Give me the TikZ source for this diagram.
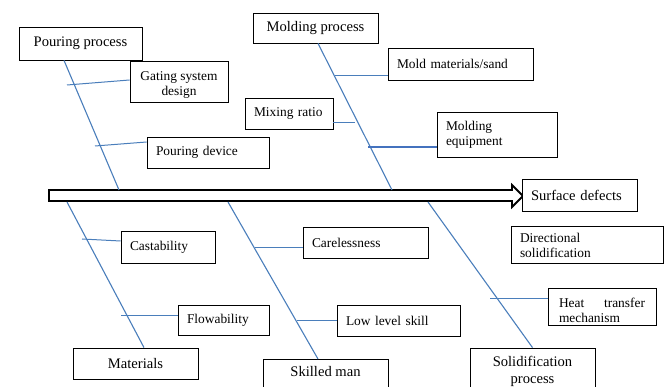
\documentclass[tikz,border=0pt]{standalone}
\usepackage{fontspec}
\setmainfont{Liberation Serif}
\definecolor{bonecol}{RGB}{74,126,187}
\definecolor{thickcol}{RGB}{68,114,190}
\begin{document}
\begin{tikzpicture}[x=1pt,y=-1pt,
  box/.style={draw=black, line width=0.8pt, fill=white, inner xsep=9pt, inner ysep=2pt,
    font=\fontsize{13.4}{15}\selectfont},
  boxl/.style={box, align=left},
  boxc/.style={box, align=center},
  bigtext/.style={font=\fontsize{14.6}{17}\selectfont},
  bone/.style={draw=bonecol, line width=1.1pt},
  twig/.style={draw=bonecol, line width=1pt},
  spine/.style={draw=black, line width=1.8pt, fill=white, line join=miter}
]
\useasboundingbox (0,0) rectangle (670,387);
\clip (0,0) rectangle (670,387);

% spine arrow
\draw[spine] (49,190) -- (512,190) -- (512,185) -- (523,196) -- (512,207) -- (512,201) -- (49,201) -- cycle;
\coordinate (s1) at (119,190);
\coordinate (s2) at (392,190);
\coordinate (s3) at (67,202);
\coordinate (s4) at (228,202);
\coordinate (s5) at (428,202);

% boxes
\node[boxc, bigtext, minimum width=123pt, minimum height=33pt] (pp) at (80.5,43.5) {Pouring process};
\node[boxc, minimum width=98pt, minimum height=41pt] (gsd) at (179,81.5) {\rule{0pt}{15.5pt}Gating system\\design};
\node[boxl, text width=104pt, minimum height=31pt] (pd) at (208,152.5) {Pouring device};
\node[boxl, text width=70pt, minimum height=31pt] (mr) at (289,113.5) {Mixing ratio};
\node[boxc, bigtext, minimum width=125pt, minimum height=30pt] (mp) at (315.5,28) {Molding process};
\node[boxl, text width=127pt, minimum height=32pt] (mms) at (460.5,64) {Mold materials/sand};
\node[boxl, text width=102pt, minimum height=45pt] (me) at (497,134.5) {Molding\\equipment};
\node[boxl, bigtext, text width=97pt, minimum height=32pt] (sd) at (579.5,195) {Surface defects};
\node[boxl, text width=134pt, minimum height=37pt] (ds) at (587,245) {Directional\\solidification};
\node[boxl, inner xsep=11pt, text width=86pt, minimum height=37pt] (htm) at (602,306.5) {\rule{0pt}{17pt}Heat\hfill transfer\\mechanism};
\node[boxc, bigtext, minimum width=125pt, minimum height=46pt] (sp) at (532.5,371) {Solidification\\process};
\node[boxl, text width=105pt, minimum height=31pt] (lls) at (398.5,320.5) {Low level skill};
\node[boxl, text width=107pt, minimum height=31pt] (car) at (365.5,242.5) {Carelessness};
\node[boxc, bigtext, anchor=north, minimum width=125pt, inner ysep=4pt, text height=13pt, text depth=24pt] (skm) at (325.5,359) {Skilled man};
\node[boxl, text width=76pt, minimum height=32pt] (cast) at (168,247) {Castability};
\node[boxl, text width=73pt, minimum height=30pt] (flow) at (223.5,320) {Flowability};
\node[boxc, bigtext, minimum width=125pt, minimum height=31pt] (mat) at (135.5,363.5) {Materials};

% bones
\draw[bone] ([xshift=-16.5pt]pp.south) -- (s1);
\draw[bone] ([xshift=2.5pt]mp.south) -- (s2);
\draw[bone] (s3) -- ([xshift=8.5pt]mat.north);
\draw[bone] (s4) -- ([xshift=-7.5pt]skm.north);
\draw[bone] (s5) -- (sp.north);

% branches
\coordinate (g1) at (67,85);
\coordinate (g2) at (95,146);
\coordinate (g3) at (335,76);
\coordinate (g4) at (355,123);
\coordinate (g5) at (368,147);
\coordinate (g6) at (82,239);
\coordinate (g7) at (121,316);
\coordinate (g8) at (255,248);
\coordinate (g9) at (297,321);
\coordinate (g10) at (490,299);

\draw[twig] (g1) -- ([yshift=1.5pt]gsd.west);
\draw[twig] (g2) -- ([yshift=10.5pt]pd.west);
\draw[twig] (g3) -- ([yshift=-12pt]mms.west);
\draw[twig] ([yshift=-9.5pt]mr.east) -- (g4);
\draw[draw=thickcol, line width=2.8pt] (g5) -- ([yshift=-12.5pt]me.west);
\draw[twig] (g6) -- ([yshift=6pt]cast.west);
\draw[twig] (g7) -- ([yshift=4pt]flow.west);
\draw[twig] (g8) -- ([yshift=-5.5pt]car.west);
\draw[twig] (g9) -- ([yshift=-0.5pt]lls.west);
\draw[twig] (g10) -- ([yshift=7.5pt]htm.west);
\end{tikzpicture}
\end{document}
